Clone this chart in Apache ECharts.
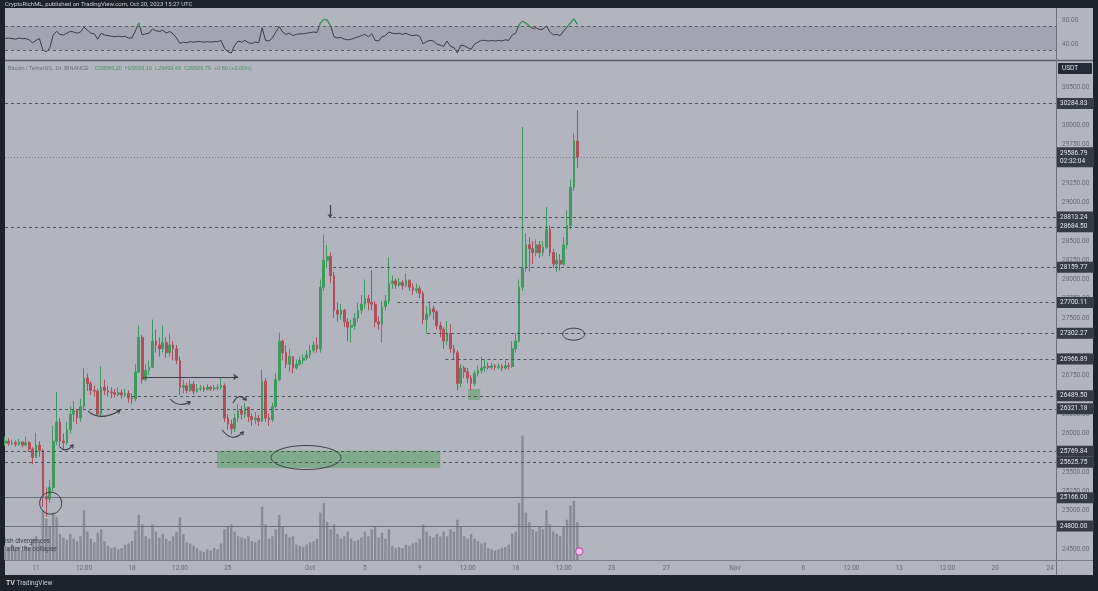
<!DOCTYPE html>
<html>
<head>
<meta charset="utf-8">
<script src="https://cdn.jsdelivr.net/npm/echarts@6/dist/echarts.min.js"></script>
<style>
  html, body { margin: 0; padding: 0; background: #1e222b; }
  #chart { width: 1098px; height: 591px; }
</style>
</head>
<body>
<div id="chart"></div>
<script>
const T = (m, d, h = 0, mi = 0) => Date.UTC(2023, m - 1, d, h, mi)

// visible window of the time scale
const xMin = T(9, 8, 17, 40)
const xMax = T(11, 24, 10, 25)

// 6h candles starting Sep 8 18:00 UTC
const firstTime = T(9, 8, 18)
const stepMs = 6 * 3600 * 1000
const firstOpen = 25880

const closes = [
  25900, 25870, 25880, 25860, 25890, 25850, 25880, 25800, 25690, 25850,
  25780, 25180, 25150, 25300, 25900, 26150, 25900, 25880, 26050, 26250,
  26300, 26200, 26350, 26720, 26650, 26560, 26550, 26250, 26600, 26560,
  26540, 26530, 26510, 26530, 26500, 26520, 26460, 26450, 26800, 27250,
  26700, 26820, 26860, 27200, 27150, 27100, 27180, 27050, 27150, 27100,
  26950, 26600, 26620, 26560, 26640, 26550, 26580, 26590, 26570, 26600,
  26580, 26590, 26600, 26620, 26200, 26120, 26060, 26200, 26300, 26250,
  26340, 26220, 26180, 26200, 26160, 26680, 26200, 26180, 26350, 26700,
  27200, 27050, 26900, 27000, 26850, 26900, 26950, 26980, 27020, 27080,
  27150, 27100, 27900, 28250, 28300, 28050, 27600, 27550, 27600, 27450,
  27380, 27400, 27500, 27600, 27680, 27750, 27700, 27680, 27450, 27420,
  27650, 27720, 27950, 27980, 27930, 27960, 27920, 27990, 27900, 27860,
  27880, 27820, 27480, 27550, 27620, 27580, 27400, 27350, 27200, 27300,
  27100, 27050, 26650, 26850, 26800, 26720, 26650, 26780, 26820, 26850,
  26870, 26860, 26880, 26860, 26870, 26850, 26880, 26870, 27100, 27200,
  27900, 28150, 28450, 28400, 28350, 28450, 28350, 28420, 28650, 28350,
  28200, 28250, 28200, 28450, 28700, 29200, 29800, 29586.79
]
const highs = [
  25960, 25940, 25920, 25910, 25930, 25900, 25960, 25900, 25820, 26010,
  25900, 25800, 25300, 25400, 26100, 26540, 26200, 26000, 26150, 26350,
  26420, 26320, 26450, 26850, 26780, 26680, 26620, 26580, 26870, 26700,
  26620, 26600, 26580, 26600, 26570, 26580, 26560, 26520, 26900, 27400,
  27280, 26900, 26950, 27480, 27350, 27250, 27400, 27250, 27300, 27200,
  27150, 27000, 26700, 26660, 26700, 26680, 26640, 26630, 26620, 26640,
  26620, 26630, 26640, 26720, 26650, 26250, 26180, 26260, 26380, 26360,
  26400, 26350, 26260, 26280, 26240, 26830, 26720, 26260, 26400, 26780,
  27310, 27220, 27150, 27100, 27000, 26960, 27000, 27030, 27080, 27150,
  27200, 27250, 28000, 28580, 28450, 28350, 28100, 27700, 27680, 27620,
  27500, 27480, 27560, 27700, 27800, 28000, 27800, 28120, 27720, 27520,
  27720, 27800, 28290, 28050, 28010, 28020, 27990, 28080, 28000, 27950,
  27950, 27920, 27850, 27650, 27720, 27660, 27600, 27450, 27380, 27460,
  27420, 27150, 27080, 26900, 26880, 26850, 26760, 26820, 26880, 27000,
  26960, 26920, 26920, 26900, 26910, 26900, 26950, 26920, 27200, 27300,
  28000, 29980, 28600, 28550, 28500, 28520, 28500, 28500, 28940, 28700,
  28400, 28350, 28330, 28550, 28900, 29300, 29900, 30200
]
const lows = [
  25840, 25840, 25850, 25830, 25840, 25820, 25830, 25760, 25600, 25680,
  25700, 25050, 24920, 25100, 25250, 25850, 25820, 25800, 25850, 26000,
  26150, 26120, 26150, 26300, 26550, 26500, 26480, 26220, 26230, 26500,
  26480, 26460, 26470, 26480, 26450, 26470, 26400, 26380, 26420, 26780,
  26650, 26680, 26760, 26850, 27050, 27000, 27050, 26980, 27000, 26950,
  26900, 26500, 26520, 26520, 26540, 26510, 26530, 26550, 26540, 26560,
  26550, 26550, 26560, 26570, 26150, 26050, 25990, 26020, 26150, 26180,
  26200, 26150, 26100, 26120, 26100, 26150, 26150, 26100, 26150, 26330,
  26680, 26950, 26850, 26800, 26780, 26830, 26880, 26900, 26950, 26980,
  27050, 27050, 27050, 27850, 28150, 27950, 27500, 27450, 27480, 27380,
  27200, 27180, 27350, 27450, 27550, 27620, 27600, 27600, 27380, 27350,
  27180, 27600, 27680, 27880, 27880, 27900, 27870, 27900, 27850, 27800,
  27820, 27760, 27420, 27300, 27520, 27480, 27350, 27250, 27100, 27150,
  27050, 26950, 26560, 26600, 26720, 26650, 26560, 26620, 26740, 26780,
  26800, 26830, 26830, 26820, 26830, 26810, 26830, 26830, 26850, 27050,
  27180, 27850, 28100, 28100, 28200, 28300, 28280, 28300, 28400, 28300,
  28150, 28100, 28120, 28180, 28400, 28650, 29150, 29450
]
// volume, thousand BTC
const volumes = [
  1.2, 1.0, 1.3, 0.9, 1.1, 0.8, 1.2, 1.0, 1.8,
  2.0, 1.6, 4.2, 3.5, 2.8, 4.0, 3.6, 2.2,
  1.9, 1.7, 2.2, 1.8, 1.6, 2.0, 4.2, 2.4,
  1.8, 1.5, 2.3, 2.6, 1.6, 1.2, 1.0, 1.1, 0.9, 1.0, 1.3, 1.4,
  1.6, 2.5, 3.8, 3.0, 2.0, 1.8, 3.0, 2.4,
  1.9, 2.2, 1.8, 1.6, 2.0, 2.4, 3.6, 2.2,
  1.5, 1.4, 1.2, 1.0, 0.8, 0.7, 0.9, 0.8, 1.0, 0.9, 1.4,
  2.6, 2.8, 3.0, 2.4, 2.0, 1.9, 1.8, 2.0, 1.6, 1.5, 1.7,
  4.5, 3.0, 1.8, 2.0, 2.6, 3.8, 2.8, 2.2, 1.9, 2.0,
  1.3, 1.2, 1.1, 1.3, 1.5, 1.6, 1.8,
  4.0, 4.8, 3.2, 2.6, 3.0,
  2.2, 1.8, 2.0, 2.4, 1.8, 1.6, 1.7, 1.9,
  2.4, 2.0, 2.6, 2.8, 1.9, 2.3, 1.8, 2.6,
  1.2, 1.0, 1.1, 1.0, 1.3, 1.2, 1.4, 1.5,
  1.8, 3.0, 2.4, 2.0, 1.9, 2.2, 2.0, 2.4,
  2.0, 2.6, 2.4, 3.4, 2.8, 2.0, 1.8, 2.2,
  1.8, 1.6, 1.4, 1.5, 1.0, 0.9, 0.8, 0.9, 1.0, 1.1, 1.3,
  2.2, 2.4, 4.8, 10.5,
  4.0, 3.2, 2.6, 2.4, 2.8, 2.6,
  4.2, 3.0, 2.4, 2.2, 2.0, 2.8,
  3.4, 4.6, 5.0, 3.2
]
const rsi = [
  49, 50, 49, 48, 50, 49, 49, 47,
  42, 46, 49, 30, 27, 33,
  55, 61, 56, 55, 58, 61, 60, 58, 60, 68, 63,
  58, 57, 48, 58, 55,
  54, 53, 52, 53, 52, 53, 50,
  50, 62, 75, 55,
  57, 58, 65, 62, 61, 63, 58, 61, 57, 50,
  41,
  43, 42, 44, 43, 44, 44, 43, 44, 43, 44, 44, 46,
  33, 27, 25, 38, 45, 43, 46, 42, 41, 43, 42,
  67, 46, 45, 50, 60, 69, 60, 56, 58, 54,
  56, 57, 57, 58, 59, 60, 59,
  75, 81, 80, 70, 52,
  50, 51, 48, 47, 48, 50, 52, 54,
  56, 52, 57, 46, 45, 52, 54, 60,
  58, 57, 58, 56, 58, 55, 54, 55,
  53, 40, 44, 46, 45, 40, 38, 36,
  45, 36, 34, 25, 38, 37, 34, 31,
  40, 43, 46, 46,
  45, 46, 45, 46, 45, 47, 46,
  55, 58, 72, 78, 75,
  70, 66, 67, 64, 65,
  70, 60, 55, 56, 54,
  62, 68, 75, 82, 73
]

const tickTimes = [
  T(9, 11), T(9, 14, 12), T(9, 18), T(9, 21, 12), T(9, 25), T(10, 1), T(10, 5), T(10, 9),
  T(10, 12, 12), T(10, 16), T(10, 19, 12), T(10, 23), T(10, 27), T(11, 1), T(11, 6),
  T(11, 9, 12), T(11, 13), T(11, 16, 12), T(11, 20), T(11, 24)
]
const tickLabels = ['11', '12:00', '18', '12:00', '25', 'Oct', '5', '9', '12:00', '16', '12:00',
  '23', '27', 'Nov', '6', '12:00', '13', '12:00', '20', '24']
const priceTicks = []
for (let p = 24500; p <= 30500; p += 250) priceTicks.push(p)

// drawn levels
const levelPrices = [30284.83, 28813.24, 28684.50, 28159.77, 27700.11, 27302.27, 26966.89, 26489.50, 26321.18, 25769.84, 25625.75]
const levelStarts = [xMin, T(10, 2, 16), xMin, T(10, 2, 16), T(10, 7, 9), T(10, 9, 13), T(10, 10, 21), T(9, 18), xMin, xMin, xMin]
const solidLevels = [25166.00, 24800.00]
const lastPrice = 29586.79
const countdown = '02:32:04'

// zones / drawings
const zones = [
  [T(9, 24, 5), 25775, T(10, 10, 12), 25552],
  [T(10, 12, 13), 26578, T(10, 13, 10), 26435]
]
const ellipses = [
  { t: T(9, 12, 1, 40), p: 25095, rx: 11, ry: 11 },
  { t: T(9, 30, 17), p: 25688, rx: 35, ry: 12 },
  { t: T(10, 20, 5, 30), p: 27290, rx: 11, ry: 6 }
]
const curves = [
  [[T(9, 14, 19), 26290], [T(9, 15, 16), 26150], [T(9, 17, 3), 26300]],
  [[T(9, 12, 18), 25825], [T(9, 13, 3), 25740], [T(9, 13, 17), 25850]],
  [[T(9, 20, 19), 26448], [T(9, 21, 9), 26330], [T(9, 22, 6), 26409]],
  [[T(9, 24, 14), 26045], [T(9, 25, 8), 25870], [T(9, 26, 3), 26020]],
  [[T(9, 25, 9), 26396], [T(9, 25, 18), 26540], [T(9, 26, 8), 26435]]
]

const candles = closes.map((c, i) => [firstTime + i * stepMs, i ? closes[i - 1] : firstOpen, c, lows[i], highs[i]])
const volData = volumes.map((v, i) => [firstTime + i * stepMs, v])
const rsiData = rsi.map((v, i) => [firstTime + i * stepMs, v])

const axisText = '#676a75'
const lineCol = '#4f535e'
const tagBg = '#363a45'

const tag = (text, extra) => Object.assign({
  show: true, position: 'end', distance: 1, formatter: text,
  backgroundColor: tagBg, color: '#e4e5e8', fontSize: 6.5, padding: [2, 3, 2, 3], width: 31
}, extra || {})

const markLines = []
levelPrices.forEach((p, i) => {
  markLines.push([
    { coord: [levelStarts[i], p], lineStyle: { type: [3, 3], color: lineCol, width: 1 }, label: tag(p.toFixed(2)) },
    { coord: [xMax, p] }
  ])
})
solidLevels.forEach(p => {
  markLines.push([
    { coord: [xMin, p], lineStyle: { type: 'solid', color: '#6c707b', width: 1.2 }, label: tag(p.toFixed(2)) },
    { coord: [xMax, p] }
  ])
})
markLines.push([
  { coord: [xMin, lastPrice], lineStyle: { type: [1, 2], color: '#7b7e88', width: 1 },
    label: tag(lastPrice.toFixed(2) + '\n' + countdown, { lineHeight: 8 }) },
  { coord: [xMax, lastPrice] }
])
// hand-drawn arrows
markLines.push([
  { coord: [T(9, 18, 19, 40), 26735], symbol: 'none', lineStyle: { type: 'solid', color: '#3e414b', width: 1.2 }, label: { show: false } },
  { coord: [T(9, 25, 18), 26735], symbol: 'arrow', symbolSize: 5 }
])
markLines.push([
  { coord: [T(10, 2, 11), 28968], symbol: 'none', lineStyle: { type: 'solid', color: '#3e414b', width: 1.2 }, label: { show: false } },
  { coord: [T(10, 2, 11), 28800], symbol: 'arrow', symbolSize: 4 }
])

const chart = echarts.init(document.getElementById('chart'))

const hiddenX = i => ({ type: 'value', gridIndex: i, min: xMin, max: xMax, show: false, splitLine: { show: false } })

chart.setOption({
  animation: false,
  backgroundColor: 'transparent',
  textStyle: { fontFamily: 'Roboto, sans-serif' },
  grid: [
    { left: 5, right: 42, top: 8, height: 52 },
    { left: 5, right: 42, top: 61, bottom: 31 },
    { left: 5, right: 42, bottom: 31, height: 160 },
    { left: 5, right: 42, top: 8, height: 18 } // RSI above 70
  ],
  xAxis: [
    hiddenX(0),
    {
      type: 'value', gridIndex: 1, min: xMin, max: xMax,
      axisLine: { show: false }, axisTick: { show: false }, splitLine: { show: false },
      axisLabel: {
        customValues: tickTimes,
        formatter: v => { const k = tickTimes.indexOf(v); return k >= 0 ? tickLabels[k] : '' },
        color: axisText, fontSize: 6.5, margin: 5
      }
    },
    hiddenX(2),
    hiddenX(3)
  ],
  yAxis: [
    {
      type: 'value', gridIndex: 0, position: 'right', min: 13.33, max: 100,
      splitLine: { show: false }, axisLine: { show: false }, axisTick: { show: false },
      axisLabel: { customValues: [40, 80], formatter: v => v.toFixed(2), color: axisText, fontSize: 6.5, margin: 6 }
    },
    {
      type: 'value', gridIndex: 1, position: 'right', min: 24357, max: 30838,
      splitLine: { show: false }, axisLine: { show: false }, axisTick: { show: false },
      axisLabel: { customValues: priceTicks, formatter: v => v.toFixed(2), color: axisText, fontSize: 6.5, margin: 6 }
    },
    { type: 'value', gridIndex: 2, min: 0, max: 13.5, show: false, splitLine: { show: false } },
    { type: 'value', gridIndex: 3, min: 70, max: 100, show: false, splitLine: { show: false } }
  ],
  series: [
    {
      type: 'line', xAxisIndex: 0, yAxisIndex: 0, data: rsiData,
      showSymbol: false, lineStyle: { width: 1, color: '#3a3d47' },
      markArea: { silent: true, itemStyle: { color: 'rgba(70,74,90,0.14)' }, data: [[{ yAxis: 30 }, { yAxis: 70 }]] },
      markLine: {
        silent: true, symbol: ['none', 'none'], label: { show: false },
        lineStyle: { type: [3, 3], color: '#5a5e69', width: 1 },
        data: [{ yAxis: 70 }, { yAxis: 30 }]
      }
    },
    {
      // same RSI line, clipped to the overbought band
      type: 'line', xAxisIndex: 3, yAxisIndex: 3, data: rsiData, clip: true, z: 3,
      showSymbol: false, lineStyle: { width: 1.2, color: '#3d9a5e' }
    },
    {
      type: 'bar', xAxisIndex: 2, yAxisIndex: 2, data: volData, barWidth: 2.4, z: 1,
      itemStyle: { color: '#888b94' }
    },
    {
      type: 'candlestick', xAxisIndex: 1, yAxisIndex: 1, data: candles, barWidth: 2.2, z: 3,
      itemStyle: { color: '#3f9a60', color0: '#b04f5b', borderColor: '#3f9a60', borderColor0: '#b04f5b', borderWidth: 1 },
      markArea: {
        silent: true, itemStyle: { color: 'rgba(78,160,92,0.5)' },
        data: zones.map(z => [{ coord: [z[0], z[1]] }, { coord: [z[2], z[3]] }])
      },
      markLine: { silent: true, symbol: ['none', 'none'], data: markLines }
    }
  ]
})

// drawings placed through the price scale
const px = (t, p) => chart.convertToPixel({ gridIndex: 1 }, [t, p])
const ink = '#3a3d47'
const drawn = []
ellipses.forEach(e => {
  const c = px(e.t, e.p)
  drawn.push({ type: 'ellipse', shape: { cx: c[0], cy: c[1], rx: e.rx, ry: e.ry }, style: { fill: 'none', stroke: ink, lineWidth: 1 }, z: 50 })
})
curves.forEach(cv => {
  const a = px(cv[0][0], cv[0][1]), b = px(cv[1][0], cv[1][1]), c = px(cv[2][0], cv[2][1])
  drawn.push({ type: 'bezierCurve', shape: { x1: a[0], y1: a[1], cpx1: b[0], cpy1: b[1], x2: c[0], y2: c[1] }, style: { fill: 'none', stroke: ink, lineWidth: 1.1 }, z: 50 })
  const ang = Math.atan2(c[1] - b[1], c[0] - b[0])
  const h = 3.5
  drawn.push({
    type: 'polyline', z: 50, style: { fill: 'none', stroke: ink, lineWidth: 1.1 },
    shape: { points: [
      [c[0] - h * Math.cos(ang - 0.6), c[1] - h * Math.sin(ang - 0.6)],
      [c[0], c[1]],
      [c[0] - h * Math.cos(ang + 0.6), c[1] - h * Math.sin(ang + 0.6)]
    ] }
  })
})
const lastX = px(firstTime + (closes.length - 1) * stepMs, lastPrice)[0]

chart.setOption({
  graphic: [
    { type: 'rect', z: -100, shape: { x: 5, y: 8, width: 1088, height: 567 }, style: { fill: '#b2b5bd' } },
    { type: 'text', z: 60, x: 5, y: 4, style: { text: 'CryptoRichML, published on TradingView.com, Oct 20, 2023 15:27 UTC', fill: '#c8cad0', fontSize: 6, verticalAlign: 'middle', fontFamily: 'Roboto' } },
    { type: 'line', z: 40, shape: { x1: 5, y1: 60.5, x2: 1093, y2: 60.5 }, style: { stroke: '#5c5f6a', lineWidth: 1.5 } },
    { type: 'line', z: 40, shape: { x1: 1056.5, y1: 8, x2: 1056.5, y2: 575 }, style: { stroke: '#6f727c', lineWidth: 1 } },
    { type: 'line', z: 40, shape: { x1: 5, y1: 560.5, x2: 1093, y2: 560.5 }, style: { stroke: '#7a7d87', lineWidth: 1 } },
    { type: 'rect', z: 60, shape: { x: 1058, y: 63, width: 34, height: 11, r: 1 }, style: { fill: '#262a35' } },
    { type: 'text', z: 61, x: 1062, y: 68.5, style: { text: 'USDT', fill: '#dfe0e3', fontSize: 6.5, verticalAlign: 'middle', fontFamily: 'Roboto' } },
    {
      type: 'text', z: 60, x: 8, y: 68.5,
      style: {
        text: '{a|Bitcoin / TetherUS, 1h, BINANCE}  {g|O29586.20  H29599.19  L29499.49  C29586.79  +0.60 (+0.00%)}',
        verticalAlign: 'middle', fontFamily: 'Roboto',
        rich: { a: { fill: '#6a6d77', fontSize: 5.5 }, g: { fill: '#4f9465', fontSize: 5.5 } }
      }
    },
    { type: 'text', z: 60, x: 5, y: 538, style: { text: 'ish divergences\n after the collapse', fill: '#3c3f49', fontSize: 6.5, lineHeight: 7.5, fontFamily: 'Roboto' } },
    { type: 'circle', z: 60, shape: { cx: lastX + 2, cy: 551.5, r: 3.6 }, style: { fill: '#f1c7ec', stroke: '#c64fb8', lineWidth: 1.2 } },
    { type: 'text', z: 60, x: 6, y: 583.5, style: { text: '{b|TV} TradingView', fill: '#c9cbd1', fontSize: 6.5, verticalAlign: 'middle', fontFamily: 'Roboto', rich: { b: { fontWeight: 'bold', fontSize: 7, fill: '#d8dadf' } } } }
  ].concat(drawn)
})
</script>
</body>
</html>
